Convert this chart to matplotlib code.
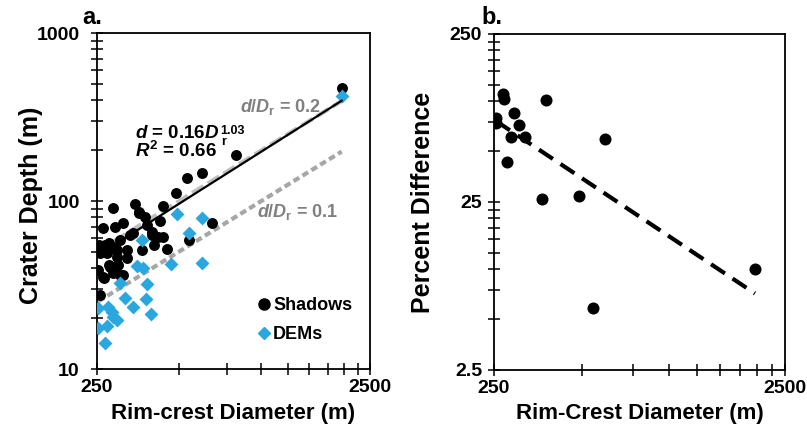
import numpy as np
import matplotlib.pyplot as plt
from matplotlib.lines import Line2D
from matplotlib.ticker import FixedLocator, FixedFormatter, NullFormatter

plt.rcParams['font.family'] = ['Liberation Sans', 'DejaVu Sans']
plt.rcParams['font.weight'] = 'bold'
plt.rcParams['mathtext.fontset'] = 'custom'
plt.rcParams['mathtext.rm'] = 'Liberation Sans:bold'
plt.rcParams['mathtext.it'] = 'Liberation Sans:italic:bold'
plt.rcParams['mathtext.bf'] = 'Liberation Sans:bold'

# panel a - depths from shadow measurements
shadow_diam = [1969, 807, 533, 605, 487, 437, 344, 357, 285, 375, 312, 291, 264, 425,
               380, 397, 340, 437, 419, 303, 658, 545, 253, 267, 287, 321, 365, 452,
               271, 295, 253, 279, 299, 312, 287, 264, 256, 321, 256, 355, 331, 398,
               403, 254, 276, 296, 276, 304, 265]
shadow_depth = [469, 188, 136.5, 146, 111, 93.8, 95.6, 86.4, 90.5, 80.6, 74.3, 70.3, 68.8, 76.3,
                72.0, 65.7, 64.2, 60.8, 61.3, 58.6, 73.7, 58.6, 53.5, 54.7, 53.5, 51.1, 51.1, 51.6,
                48.8, 46.6, 38.8, 40.6, 41.6, 36.3, 37.1, 35.4, 27.6, 45.6, 48.8, 84.5, 62.7, 62.7,
                54.7, 54.7, 56.0, 51.1, 41.6, 36.3, 34.7]

# panel a - depths from DEMs
dem_diam = [1969, 490, 605, 545, 366, 466, 605, 350, 368, 303, 380, 317, 340, 377, 393,
            253, 275, 283, 287, 295, 253, 271, 267]
dem_depth = [422, 83.7, 78.9, 64.2, 58.6, 42.2, 42.9, 41.0, 39.8, 32.4, 32.1, 26.6, 23.5, 26.0, 21.3,
             23.0, 23.5, 21.9, 20.5, 19.6, 17.5, 18.0, 14.2]

fit_coef = 0.16
fit_exp = 1.03
ratio_hi = 0.2
ratio_lo = 0.1

# panel b - percent difference between methods
pct_diam = [269, 271, 377, 254, 254, 294, 305, 286, 320, 602, 276, 366, 490, 1971, 548]
pct_diff = [109.9, 102.1, 101.2, 79.4, 73.5, 84.3, 71.8, 61.2, 61.2, 59.0, 43.4, 25.9, 27.3, 9.94, 5.87]

W, H = 807, 441
fig = plt.figure(figsize=(W / 100, H / 100), dpi=100)

def box(x0, y0, x1, y1):
    return [x0 / W, 1 - y1 / H, (x1 - x0) / W, (y1 - y0) / H]

blue = '#2AA7DF'

axa = fig.add_axes(box(97, 33, 370, 369))
axb = fig.add_axes(box(494, 34, 785, 370))

for ax in (axa, axb):
    ax.set_xscale('log')
    ax.set_yscale('log')
    for s in ax.spines.values():
        s.set_linewidth(1.3)
    ax.tick_params(which='both', direction='inout', length=9, width=1.1,
                   labelsize=14, top=False, right=False)
    ax.tick_params(axis='y', pad=8)
    ax.tick_params(axis='x', pad=3)

# ---- panel a
xr = np.array([min(shadow_diam), max(shadow_diam)])
axa.plot(xr, ratio_hi * xr, color='#BFBFBF', lw=3, dashes=(3.2, 1.2), zorder=2)
axa.plot(xr, ratio_lo * xr, color='#A6A6A6', lw=3, dashes=(1.6, 0.9), zorder=2)
axa.scatter(shadow_diam, shadow_depth, s=62, color='black', zorder=3, linewidths=0)
axa.scatter(dem_diam, dem_depth, s=50, marker='D', color=blue, zorder=4, linewidths=0)
axa.plot(xr, fit_coef * xr ** fit_exp, color='black', lw=1.6, zorder=5)

axa.set_xlim(250, 2500)
axa.set_ylim(10, 1000)
axa.xaxis.set_major_locator(FixedLocator([250, 2500]))
axa.xaxis.set_major_formatter(FixedFormatter(['250', '2500']))
axa.xaxis.set_minor_locator(FixedLocator([250 * k for k in range(2, 10)]))
axa.xaxis.set_minor_formatter(NullFormatter())
axa.yaxis.set_major_locator(FixedLocator([10, 100, 1000]))
axa.yaxis.set_major_formatter(FixedFormatter(['10', '100', '1000']))
axa.yaxis.set_minor_locator(FixedLocator([d * k for d in (10, 100) for k in range(2, 10)]))
axa.yaxis.set_minor_formatter(NullFormatter())

# fit equation: two lines in one text, sub/superscript stacked after the D
eq = axa.text(0.139, 0.726, '$d$ = 0.16$D$\n$R^2$ = 0.66', transform=axa.transAxes,
              fontsize=13.5, va='top', ha='left', linespacing=0.95)
axa.annotate('1.03', xy=(1, 1), xycoords=eq, xytext=(1, 0), textcoords='offset points',
             fontsize=9, va='top', ha='left')
axa.annotate('r', xy=(1, 1), xycoords=eq, xytext=(1, -12.5), textcoords='offset points',
             fontsize=9, va='center', ha='left')
axa.text(0.524, 0.78, r'$d/D_\mathrm{r}$ = 0.2', transform=axa.transAxes,
         fontsize=13, color='#808080', va='center', ha='left')
axa.text(0.586, 0.467, r'$d/D_\mathrm{r}$ = 0.1', transform=axa.transAxes,
         fontsize=13, color='#808080', va='center', ha='left')

handles = [Line2D([], [], ls='none', marker='o', color='black', markersize=8),
           Line2D([], [], ls='none', marker='D', color=blue, markersize=6)]
axa.legend(handles, ['Shadows', 'DEMs'], loc='lower right', bbox_to_anchor=(0.975, 0.045),
           frameon=False, fontsize=13, handlelength=0.6, handletextpad=0.2,
           labelspacing=0.65, borderaxespad=0.2)

# ---- panel b
lx = np.log10(pct_diam)
ly = np.log10(pct_diff)
b, a = np.polyfit(lx, ly, 1)
xt = np.array([min(pct_diam), max(pct_diam)])
axb.plot(xt, 10 ** a * xt ** b, color='black', lw=3, dashes=(4, 2.2), zorder=2)
axb.scatter(pct_diam, pct_diff, s=75, color='black', zorder=3, linewidths=0)

axb.set_xlim(250, 2500)
axb.set_ylim(2.5, 250)
axb.xaxis.set_major_locator(FixedLocator([250, 2500]))
axb.xaxis.set_major_formatter(FixedFormatter(['250', '2500']))
axb.xaxis.set_minor_locator(FixedLocator([250 * k for k in range(2, 10)]))
axb.xaxis.set_minor_formatter(NullFormatter())
axb.yaxis.set_major_locator(FixedLocator([2.5, 25, 250]))
axb.yaxis.set_major_formatter(FixedFormatter(['2.5', '25', '250']))
axb.yaxis.set_minor_locator(FixedLocator([d * k for d in (2.5, 25) for k in range(2, 10)]))
axb.yaxis.set_minor_formatter(NullFormatter())
axb.tick_params(axis='y', pad=4)

# ---- labels
def ftext(x, y, s, **kw):
    fig.text(x / W, 1 - y / H, s, **kw)

ftext(82, 17, 'a.', fontsize=17, va='center', ha='left')
ftext(481, 17, 'b.', fontsize=17, va='center', ha='left')
ftext(233, 413, 'Rim-crest Diameter (m)', fontsize=16, ha='center', va='center')
ftext(640, 413, 'Rim-Crest Diameter (m)', fontsize=16, ha='center', va='center')
ftext(31, 205, 'Crater Depth (m)', fontsize=18, rotation=90, ha='center', va='center')
ftext(423, 202, 'Percent Difference', fontsize=18, rotation=90, ha='center', va='center')

fig.savefig('out.png', dpi=100)
